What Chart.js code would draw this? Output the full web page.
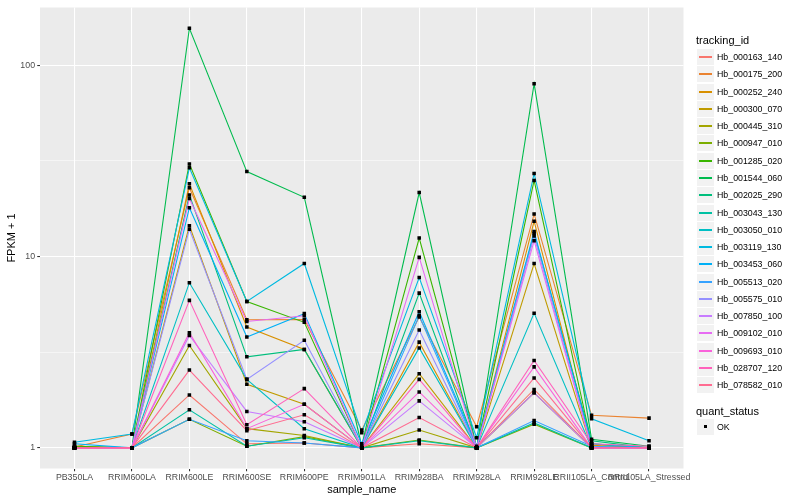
<!DOCTYPE html>
<html>
<head>
<meta charset="utf-8">
<script src="https://cdn.jsdelivr.net/npm/chart.js@4.4.0/dist/chart.umd.min.js"></script>
<style>
    html, body { margin: 0; padding: 0; background: #fff; }
    #wrap { position: relative; width: 800px; height: 500px; font-family: "Liberation Sans", Arial, sans-serif; }
    #chart { position: absolute; left: 0; top: 0; }
    .lg-title { position: absolute; left: 696px; font-size: 11px; line-height: 13px; color: #000; white-space: nowrap; }
    .lg-key { position: absolute; left: 697px; width: 17px; height: 16px; background: #F2F2F2; }
    .lg-line { position: absolute; left: 2px; width: 13px; top: 7px; height: 2px; }
    .lg-dot { position: absolute; left: 7px; top: 6px; width: 3px; height: 3px; background: #000; }
    .lg-text { position: absolute; left: 717px; font-size: 8.8px; line-height: 11px; color: #000; white-space: nowrap; }
</style>
</head>
<body>
<div id="wrap">
    <canvas id="chart" width="800" height="500"></canvas>
    <div id="legend"></div>
</div>
<script>
// samples on the x axis
var samples = ['PB350LA', 'RRIM600LA', 'RRIM600LE', 'RRIM600SE', 'RRIM600PE', 'RRIM901LA',
    'RRIM928BA', 'RRIM928LA', 'RRIM928LE', 'RRII105LA_Control', 'RRII105LA_Stressed'];

// FPKM + 1 per tracking id, one value per sample
var hb000163_140 = [1.00, 1.00, 1.89, 1.05, 1.06, 1.00, 1.05, 1.00, 2.02, 1.00, 1.00];
var hb000175_200 = [1.01, 1.18, 22.9, 4.67, 4.69, 1.24, 4.83, 1.29, 16.7, 1.48, 1.43];
var hb000252_240 = [1.02, 1.00, 24.0, 4.28, 3.27, 1.00, 3.57, 1.00, 15.3, 1.03, 1.00];
var hb000300_070 = [1.00, 1.00, 14.5, 2.15, 1.69, 1.00, 2.44, 1.00, 9.2, 1.00, 1.00];
var hb000445_310 = [1.00, 1.00, 3.43, 1.26, 1.16, 1.00, 1.24, 1.00, 1.94, 1.00, 1.00];
var hb000947_010 = [1.00, 1.00, 1.41, 1.02, 1.145, 1.00, 1.10, 1.00, 1.33, 1.00, 1.00];
var hb001285_020 = [1.02, 1.00, 30.5, 5.82, 4.53, 1.00, 12.5, 1.00, 25.0, 1.05, 1.00];
var hb001544_060 = [1.00, 1.00, 156, 27.8, 20.4, 1.02, 21.6, 1.00, 80, 1.11, 1.02];
var hb002025_290 = [1.00, 1.00, 21.0, 2.99, 3.27, 1.00, 6.44, 1.00, 13.2, 1.09, 1.00];
var hb003043_130 = [1.00, 1.00, 1.58, 1.02, 1.13, 1.00, 1.09, 1.00, 1.35, 1.00, 1.00];
var hb003050_010 = [1.00, 1.00, 7.3, 2.28, 1.26, 1.00, 3.33, 1.00, 5.06, 1.00, 1.00];
var hb003119_130 = [1.07, 1.18, 29.1, 5.82, 9.2, 1.20, 7.77, 1.13, 27.2, 1.42, 1.09];
var hb003453_060 = [1.05, 1.00, 18.0, 3.80, 5.03, 1.05, 5.15, 1.02, 13.5, 1.05, 1.00];
var hb005513_020 = [1.00, 1.00, 1.41, 1.09, 1.06, 1.00, 4.90, 1.00, 1.39, 1.02, 1.00];
var hb005575_010 = [1.00, 1.00, 13.9, 2.28, 3.65, 1.00, 4.13, 1.00, 12.8, 1.00, 1.00];
var hb007850_100 = [1.00, 1.00, 3.87, 1.55, 1.37, 1.00, 1.76, 1.00, 1.94, 1.00, 1.00];
var hb009102_010 = [1.00, 1.00, 20.1, 4.58, 4.90, 1.00, 9.9, 1.00, 12.1, 1.00, 1.00];
var hb009693_010 = [1.00, 1.00, 4.0, 1.26, 1.69, 1.00, 1.96, 1.00, 2.65, 1.00, 1.00];
var hb028707_120 = [1.00, 1.00, 5.9, 1.32, 2.04, 1.00, 2.28, 1.00, 2.86, 1.05, 1.02];
var hb078582_010 = [1.00, 1.00, 2.55, 1.23, 1.49, 1.00, 1.44, 1.00, 2.32, 1.00, 1.00];

var trackingIds = ['Hb_000163_140', 'Hb_000175_200', 'Hb_000252_240', 'Hb_000300_070', 'Hb_000445_310',
    'Hb_000947_010', 'Hb_001285_020', 'Hb_001544_060', 'Hb_002025_290', 'Hb_003043_130',
    'Hb_003050_010', 'Hb_003119_130', 'Hb_003453_060', 'Hb_005513_020', 'Hb_005575_010',
    'Hb_007850_100', 'Hb_009102_010', 'Hb_009693_010', 'Hb_028707_120', 'Hb_078582_010'];
var seriesValues = [hb000163_140, hb000175_200, hb000252_240, hb000300_070, hb000445_310,
    hb000947_010, hb001285_020, hb001544_060, hb002025_290, hb003043_130,
    hb003050_010, hb003119_130, hb003453_060, hb005513_020, hb005575_010,
    hb007850_100, hb009102_010, hb009693_010, hb028707_120, hb078582_010];

var quantStatus = ['OK'];
var yMajorTicks = [1, 10, 100];
var yMinorTicks = [3.1623, 31.623];

// ggplot hue palette, 20 levels
var palette = ['#F8766D', '#EA8331', '#D89000', '#C09B00', '#A3A500', '#7CAE00', '#39B600', '#00BB4E',
    '#00BF7D', '#00C1A3', '#00BFC4', '#00BAE0', '#00B0F6', '#35A2FF', '#9590FF', '#C77CFF',
    '#E76BF3', '#FA62DB', '#FF62BC', '#FF6C91'];

var FONT = '"Liberation Sans", Arial, sans-serif';

function buildDatasets() {
    var sets = [];
    var allPoints = [];
    seriesValues.forEach(function (vals, i) {
        var pts = vals.map(function (v, j) { return {x: j, y: v}; });
        allPoints = allPoints.concat(pts);
        sets.push({
            type: 'line',
            label: trackingIds[i],
            data: pts,
            borderColor: palette[i],
            borderWidth: 1.1,
            pointRadius: 0,
            tension: 0,
            fill: false,
            order: 20 - i
        });
    });
    // points on top of every line, like geom_point after geom_line
    sets.push({
        type: 'scatter',
        label: quantStatus[0],
        data: allPoints,
        pointStyle: 'rect',
        pointRadius: 2.5,
        borderWidth: 0,
        backgroundColor: '#000',
        order: 0
    });
    return sets;
}

var panelBg = {
    id: 'panelBg',
    beforeDraw: function (chart) {
        var a = chart.chartArea, ctx = chart.ctx;
        ctx.save();
        ctx.fillStyle = '#EBEBEB';
        ctx.fillRect(a.left, a.top, a.right - a.left, a.bottom - a.top);
        ctx.restore();
    }
};

function isMajor(v) {
    return yMajorTicks.some(function (m) { return Math.abs(m - v) < 1e-6; });
}

new Chart(document.getElementById('chart').getContext('2d'), {
    data: {datasets: buildDatasets()},
    plugins: [panelBg],
    options: {
        responsive: false,
        animation: false,
        devicePixelRatio: 1,
        layout: {padding: {top: 5, right: 116.5, left: 0, bottom: 0}},
        plugins: {legend: {display: false}, tooltip: {enabled: false}},
        scales: {
            x: {
                type: 'linear',
                min: -0.6,
                max: 10.6,
                afterBuildTicks: function (scale) {
                    scale.ticks = samples.map(function (s, i) { return {value: i}; });
                },
                afterFit: function (scale) { scale.height = 31.5; },
                border: {display: false},
                grid: {color: '#FFFFFF', lineWidth: 1.07, tickColor: '#333333', tickLength: 2.75},
                ticks: {
                    autoSkip: false,
                    maxRotation: 0,
                    padding: 1.5,
                    color: '#4D4D4D',
                    font: {family: FONT, size: 8.8},
                    callback: function (v) { return samples[v]; }
                },
                title: {
                    display: true,
                    text: 'sample_name',
                    color: '#000',
                    font: {family: FONT, size: 11},
                    padding: {top: 0, bottom: 3}
                }
            },
            y: {
                type: 'logarithmic',
                min: 0.78,
                max: 200.4,
                afterBuildTicks: function (scale) {
                    scale.ticks = yMajorTicks.concat(yMinorTicks).sort(function (a, b) { return a - b; })
                        .map(function (v) { return {value: v}; });
                },
                afterFit: function (scale) { scale.width = 40; },
                border: {display: false},
                grid: {
                    color: '#FFFFFF',
                    lineWidth: function (c) { return c.tick && isMajor(c.tick.value) ? 1.07 : 0.53; },
                    tickColor: function (c) { return c.tick && isMajor(c.tick.value) ? '#333333' : 'rgba(0,0,0,0)'; },
                    tickLength: 2.75
                },
                ticks: {
                    padding: 2.2,
                    color: '#4D4D4D',
                    font: {family: FONT, size: 8.8},
                    callback: function (v) { return isMajor(v) ? String(v) : ''; }
                },
                title: {
                    display: true,
                    text: 'FPKM + 1',
                    color: '#000',
                    font: {family: FONT, size: 11},
                    padding: {top: 5.5, bottom: 0}
                }
            }
        }
    }
});

// ggplot style legends on the right
function buildLegend() {
    var box = document.getElementById('legend');
    var html = '<div class="lg-title" style="top:34px">tracking_id</div>';
    trackingIds.forEach(function (id, i) {
        var top = Math.round(49 + i * 17.28);
        html += '<div class="lg-key" style="top:' + top + 'px"><div class="lg-line" style="background:' + palette[i] + '"></div></div>';
        html += '<div class="lg-text" style="top:' + (top + 3) + 'px">' + id + '</div>';
    });
    html += '<div class="lg-title" style="top:405px">quant_status</div>';
    quantStatus.forEach(function (q, i) {
        var top = Math.round(419 + i * 17.28);
        html += '<div class="lg-key" style="top:' + top + 'px"><div class="lg-dot"></div></div>';
        html += '<div class="lg-text" style="top:' + (top + 3) + 'px">' + q + '</div>';
    });
    box.innerHTML = html;
}
buildLegend();
</script>
</body>
</html>
